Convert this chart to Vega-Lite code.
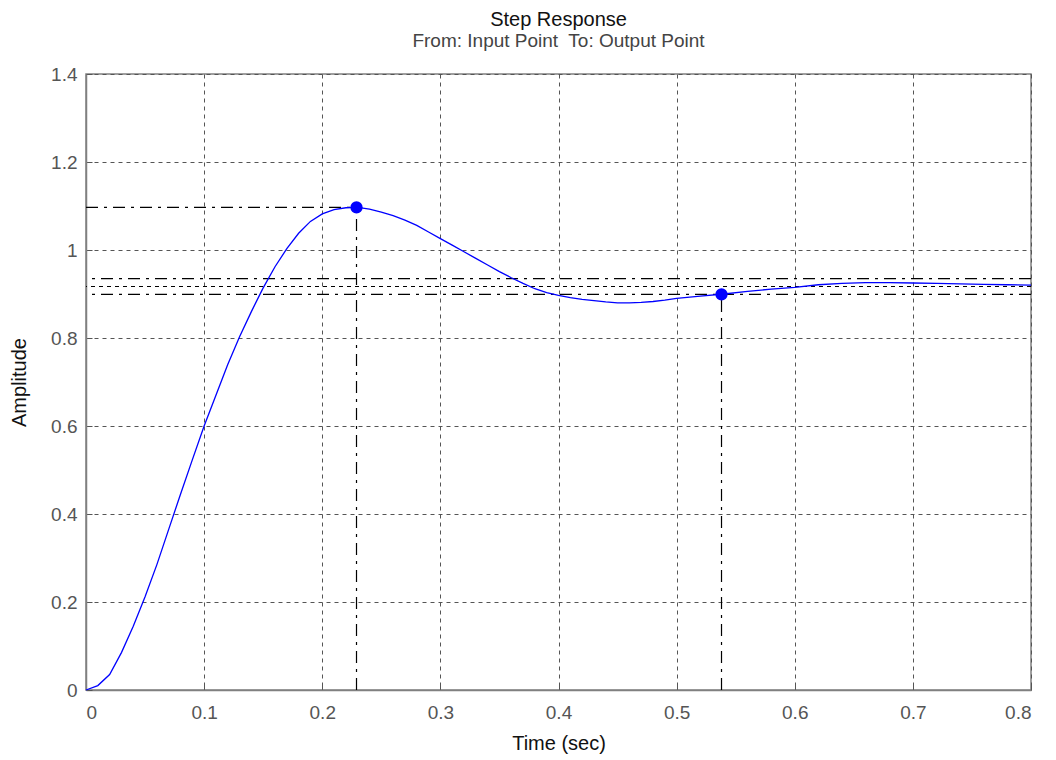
{
  "$schema": "https://vega.github.io/schema/vega-lite/v6.json",
  "width": 945,
  "height": 616,
  "autosize": "none",
  "padding": {"left": 86, "top": 74, "right": 25, "bottom": 70},
  "background": "white",
  "title": {
    "text": "Step Response",
    "subtitle": "From: Input Point\u00a0 To: Output Point",
    "anchor": "middle",
    "frame": "group",
    "font": "Liberation Sans",
    "fontSize": 20,
    "fontWeight": "normal",
    "color": "#111111",
    "subtitleFont": "Liberation Sans",
    "subtitleFontSize": 19,
    "subtitleColor": "#444444",
    "subtitlePadding": 2,
    "offset": 14
  },
  "config": {
    "view": {"stroke": "#808080", "strokeWidth": 1.5},
    "axis": {
      "labelFont": "Liberation Sans",
      "labelFontSize": 19,
      "labelColor": "#555555",
      "titleFont": "Liberation Sans",
      "titleFontSize": 20,
      "titleFontWeight": "normal",
      "titleColor": "#111111",
      "domainColor": "#808080",
      "domainWidth": 1.5,
      "grid": true,
      "gridColor": "#555555",
      "gridDash": [4, 4],
      "gridWidth": 1,
      "gridOpacity": 1,
      "tickColor": "#555555",
      "tickSize": -6
    }
  },
  "datasets": {
    "curve": [
      {"t": 0, "y": 0}, {"t": 0.01, "y": 0.01}, {"t": 0.02, "y": 0.035}, {"t": 0.03, "y": 0.085},
      {"t": 0.04, "y": 0.145}, {"t": 0.05, "y": 0.212}, {"t": 0.06, "y": 0.285}, {"t": 0.07, "y": 0.365},
      {"t": 0.08, "y": 0.445}, {"t": 0.09, "y": 0.523}, {"t": 0.1, "y": 0.6}, {"t": 0.11, "y": 0.67},
      {"t": 0.12, "y": 0.74}, {"t": 0.13, "y": 0.803}, {"t": 0.14, "y": 0.86}, {"t": 0.15, "y": 0.914},
      {"t": 0.16, "y": 0.962}, {"t": 0.17, "y": 1.003}, {"t": 0.18, "y": 1.038}, {"t": 0.19, "y": 1.065},
      {"t": 0.2, "y": 1.082}, {"t": 0.21, "y": 1.092}, {"t": 0.22, "y": 1.096}, {"t": 0.23, "y": 1.097},
      {"t": 0.24, "y": 1.093}, {"t": 0.25, "y": 1.086}, {"t": 0.26, "y": 1.078}, {"t": 0.27, "y": 1.068},
      {"t": 0.28, "y": 1.056}, {"t": 0.29, "y": 1.041}, {"t": 0.3, "y": 1.026}, {"t": 0.31, "y": 1.011},
      {"t": 0.32, "y": 0.996}, {"t": 0.33, "y": 0.981}, {"t": 0.34, "y": 0.966}, {"t": 0.35, "y": 0.951},
      {"t": 0.36, "y": 0.937}, {"t": 0.37, "y": 0.924}, {"t": 0.38, "y": 0.912}, {"t": 0.39, "y": 0.903},
      {"t": 0.4, "y": 0.897}, {"t": 0.41, "y": 0.892}, {"t": 0.42, "y": 0.888}, {"t": 0.43, "y": 0.885},
      {"t": 0.44, "y": 0.882}, {"t": 0.45, "y": 0.88}, {"t": 0.46, "y": 0.88}, {"t": 0.47, "y": 0.881},
      {"t": 0.48, "y": 0.883}, {"t": 0.49, "y": 0.886}, {"t": 0.5, "y": 0.89}, {"t": 0.52, "y": 0.895},
      {"t": 0.54, "y": 0.9}, {"t": 0.56, "y": 0.906}, {"t": 0.58, "y": 0.911}, {"t": 0.6, "y": 0.915},
      {"t": 0.62, "y": 0.921}, {"t": 0.64, "y": 0.924}, {"t": 0.66, "y": 0.926}, {"t": 0.68, "y": 0.926},
      {"t": 0.7, "y": 0.925}, {"t": 0.72, "y": 0.924}, {"t": 0.74, "y": 0.923}, {"t": 0.76, "y": 0.922},
      {"t": 0.78, "y": 0.921}, {"t": 0.8, "y": 0.92}
    ],
    "hlines": [
      {"y": 0.935, "kind": "band"},
      {"y": 0.899, "kind": "band"},
      {"y": 0.917, "kind": "final"}
    ],
    "segments": [
      {"x": 0, "x2": 0.229, "y": 1.097, "y2": 1.097},
      {"x": 0.229, "x2": 0.229, "y": 0, "y2": 1.097},
      {"x": 0.538, "x2": 0.538, "y": 0, "y2": 0.899}
    ],
    "points": [
      {"t": 0.229, "y": 1.097},
      {"t": 0.538, "y": 0.899}
    ]
  },
  "layer": [
    {
      "data": {"name": "hlines"},
      "transform": [{"filter": "datum.kind === 'band'"}],
      "mark": {"type": "rule", "color": "black", "strokeWidth": 1.2, "strokeDash": [12, 6, 3, 6]},
      "encoding": {
        "y": {"field": "y", "type": "quantitative", "scale": {"domain": [0, 1.4]}}
      }
    },
    {
      "data": {"name": "hlines"},
      "transform": [{"filter": "datum.kind === 'final'"}],
      "mark": {"type": "rule", "color": "black", "strokeWidth": 1.2, "strokeDash": [4, 4]},
      "encoding": {
        "y": {"field": "y", "type": "quantitative"}
      }
    },
    {
      "data": {"name": "segments"},
      "mark": {"type": "rule", "color": "black", "strokeWidth": 1.2, "strokeDash": [12, 6, 3, 6]},
      "encoding": {
        "x": {"field": "x", "type": "quantitative"},
        "x2": {"field": "x2"},
        "y": {"field": "y", "type": "quantitative"},
        "y2": {"field": "y2"}
      }
    },
    {
      "data": {"name": "curve"},
      "mark": {"type": "line", "color": "#0000ff", "strokeWidth": 1.3},
      "encoding": {
        "x": {"field": "t", "type": "quantitative", "scale": {"domain": [0, 0.8], "nice": false},
              "axis": {"title": "Time (sec)", "format": "~g", "values": [0, 0.1, 0.2, 0.3, 0.4, 0.5, 0.6, 0.7, 0.8], "labelPadding": 19, "titlePadding": 11}},
        "y": {"field": "y", "type": "quantitative", "scale": {"domain": [0, 1.4], "nice": false},
              "axis": {"title": "Amplitude", "format": "~g", "values": [0, 0.2, 0.4, 0.6, 0.8, 1, 1.2, 1.4], "labelPadding": 15, "titlePadding": 21}}
      }
    },
    {
      "data": {"name": "points"},
      "mark": {"type": "point", "filled": true, "color": "#0000ff", "size": 150, "opacity": 1},
      "encoding": {
        "x": {"field": "t", "type": "quantitative"},
        "y": {"field": "y", "type": "quantitative"}
      }
    }
  ]
}
